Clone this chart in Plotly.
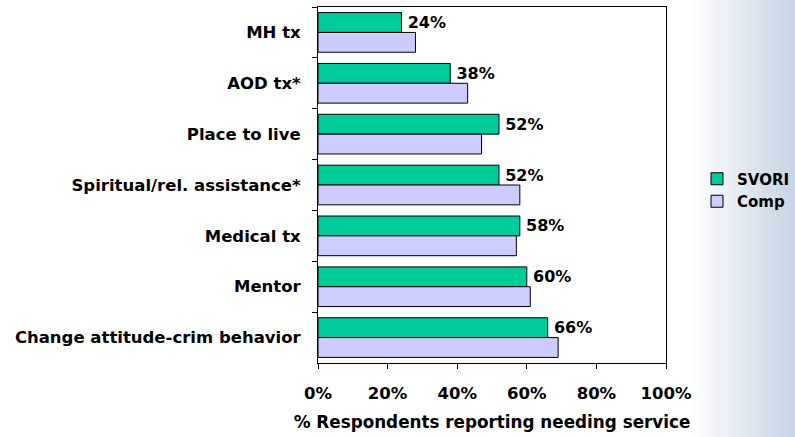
import plotly.graph_objects as go

categories = ["MH tx", "AOD tx*", "Place to live", "Spiritual/rel. assistance*",
              "Medical tx", "Mentor", "Change attitude-crim behavior"]
svori = [0.24, 0.38, 0.52, 0.52, 0.58, 0.60, 0.66]
comp = [0.28, 0.43, 0.47, 0.58, 0.57, 0.61, 0.69]
svori_labels = ["24%", "38%", "52%", "52%", "58%", "60%", "66%"]
x_ticks = [0, 0.2, 0.4, 0.6, 0.8, 1.0]
x_tick_labels = ["0%", "20%", "40%", "60%", "80%", "100%"]

FONT = "DejaVu Sans"
W, H = 795, 437
L, R, T, B = 318, 129, 7, 74
pw = W - L - R

fig = go.Figure()
fig.add_trace(go.Bar(
    y=categories, x=svori, name="SVORI", orientation="h",
    marker=dict(color="#00CC99", line=dict(color="#000000", width=1)),
    text=svori_labels, texttemplate="\u2009%{text}", textposition="outside",
    cliponaxis=False,
    textfont=dict(family=FONT, size=16, color="#000000", weight="bold"),
))
fig.add_trace(go.Bar(
    y=categories, x=comp, name="Comp", orientation="h",
    marker=dict(color="#CCCCFF", line=dict(color="#000000", width=1)),
))

# gradient background on the right
shapes = []
g0, g1 = 690, 796
n = 36
end = (197, 211, 228)
for i in range(n):
    x0 = g0 + (g1 - g0) * i / n
    x1 = g0 + (g1 - g0) * (i + 1) / n + 0.5
    t = (i + 0.5) / n
    c = tuple(round(255 + (e - 255) * t) for e in end)
    shapes.append(dict(
        type="rect", xref="paper", yref="paper", layer="below",
        x0=(x0 - L) / pw, x1=(x1 - L) / pw,
        y0=-B / (H - T - B) - 0.05, y1=1 + T / (H - T - B) + 0.05,
        fillcolor="rgb(%d,%d,%d)" % c, line=dict(width=0),
    ))

fig.update_layout(
    width=W, height=H,
    margin=dict(l=L, r=R, t=T, b=B, autoexpand=False),
    paper_bgcolor="white", plot_bgcolor="white",
    barmode="group", bargap=0.22, bargroupgap=0,
    font=dict(family=FONT, color="#000000"),
    shapes=shapes,
    legend=dict(
        xref="container", x=697 / W, xanchor="left",
        yref="container", y=1 - 190 / H, yanchor="middle",
        bgcolor="rgba(0,0,0,0)",
        font=dict(family=FONT, size=15, color="#000000", weight="bold"),
        itemwidth=30, tracegroupgap=0,
    ),
    xaxis=dict(
        range=[0, 1], tickvals=x_ticks, ticktext=x_tick_labels,
        showgrid=False, zeroline=False, showline=True, linecolor="#000000",
        linewidth=1, mirror=True, ticks="outside", ticklen=5, tickcolor="#000000",
        tickfont=dict(family=FONT, size=16.5, color="#000000", weight="bold"),
        ticklabelstandoff=10, automargin=False,
        title=dict(text="% Respondents reporting needing service",
                   font=dict(family=FONT, size=16.8, color="#000000", weight="bold"),
                   standoff=14),
    ),
    yaxis=dict(
        autorange="reversed", showgrid=False, zeroline=False, showline=True,
        linecolor="#000000", linewidth=1, mirror=True, ticks="outside",
        tickson="boundaries", ticklen=5, tickcolor="#000000",
        tickfont=dict(family=FONT, size=16.5, color="#000000", weight="bold"),
        ticklabelstandoff=13, automargin=False,
    ),
)

fig.write_html("out.html", config={"displayModeBar": False},
               post_script="document.body.style.margin='0';")
